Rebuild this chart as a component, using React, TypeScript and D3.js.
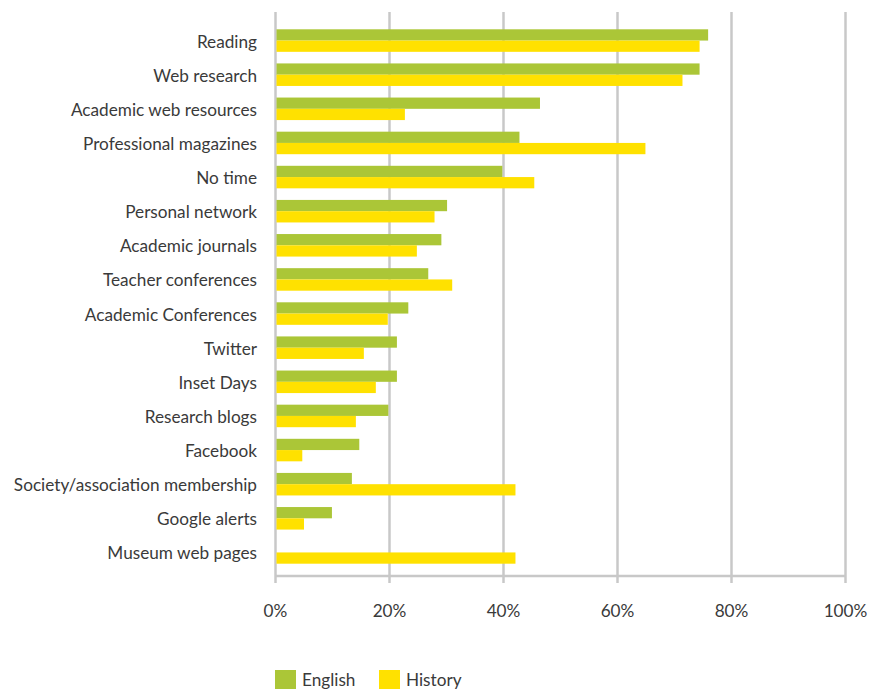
import * as d3 from 'd3';

const categories = [
  'Reading',
  'Web research',
  'Academic web resources',
  'Professional magazines',
  'No time',
  'Personal network',
  'Academic journals',
  'Teacher conferences',
  'Academic Conferences',
  'Twitter',
  'Inset Days',
  'Research blogs',
  'Facebook',
  'Society/association membership',
  'Google alerts',
  'Museum web pages',
];

const english = [75.9, 74.4, 46.4, 42.8, 39.8, 30.1, 29.1, 26.8, 23.3, 21.3, 21.3, 19.8, 14.7, 13.4, 9.9, 0];
const history = [74.4, 71.4, 22.7, 64.9, 45.4, 27.9, 24.8, 31.0, 19.7, 15.5, 17.6, 14.1, 4.7, 42.1, 5.0, 42.1];

const seriesNames = ['English', 'History'];
const seriesColors = ['#abc637', '#ffe100'];
const ticks = [0, 20, 40, 60, 80, 100];

const width = 886;
const height = 690;
const font = 'Lato, "Open Sans", sans-serif';

export default function App() {
  const x = d3.scaleLinear().domain([0, 100]).range([275.5, 845.5]);
  const y = d3.scaleBand<string>()
    .domain(categories)
    .range([23.5, 569.5])
    .paddingInner(0.34)
    .paddingOuter(0.17);
  const sub = d3.scaleBand<string>().domain(seriesNames).range([0, y.bandwidth()]);

  const gridTop = 12;
  const axisY = 576;

  return (
    <svg
      width={width}
      height={height}
      style={{ position: 'fixed', left: 0, top: 0, background: '#fff' }}
      fontFamily={font}
    >
      {/* gridlines */}
      {ticks.map(t => (
        <line
          key={t}
          x1={x(t)}
          x2={x(t)}
          y1={gridTop}
          y2={axisY + 7}
          stroke="#c8c8c8"
          strokeWidth={2.5}
        />
      ))}
      <line x1={x(0)} x2={x(100)} y1={axisY} y2={axisY} stroke="#c8c8c8" strokeWidth={2.5} />

      {/* bars */}
      {categories.map((c, i) => (
        <g key={c} transform={`translate(0,${y(c)})`}>
          {[english[i], history[i]].map((v, j) =>
            v > 0 ? (
              <rect
                key={j}
                x={x(0) + 1}
                y={sub(seriesNames[j])}
                width={x(v) - x(0) - 1}
                height={sub.bandwidth()}
                fill={seriesColors[j]}
              />
            ) : null
          )}
        </g>
      ))}

      {/* category labels */}
      {categories.map(c => (
        <text
          key={c}
          x={257}
          y={(y(c) ?? 0) + y.bandwidth() / 2 + 1}
          dy="0.35em"
          textAnchor="end"
          fontSize={17.2}
          fill="#3a3a3a"
        >
          {c}
        </text>
      ))}

      {/* tick labels */}
      {ticks.map(t => (
        <text key={t} x={x(t)} y={611} dy="0.35em" textAnchor="middle" fontSize={17.2} fill="#3a3a3a">
          {t}%
        </text>
      ))}

      {/* legend */}
      {seriesNames.map((s, i) => {
        const lx = i === 0 ? 275 : 379;
        return (
          <g key={s}>
            <rect x={lx} y={670} width={21} height={19} fill={seriesColors[i]} />
            <text x={lx + 27} y={680} dy="0.35em" fontSize={17.2} fill="#3a3a3a">
              {s}
            </text>
          </g>
        );
      })}
    </svg>
  );
}
